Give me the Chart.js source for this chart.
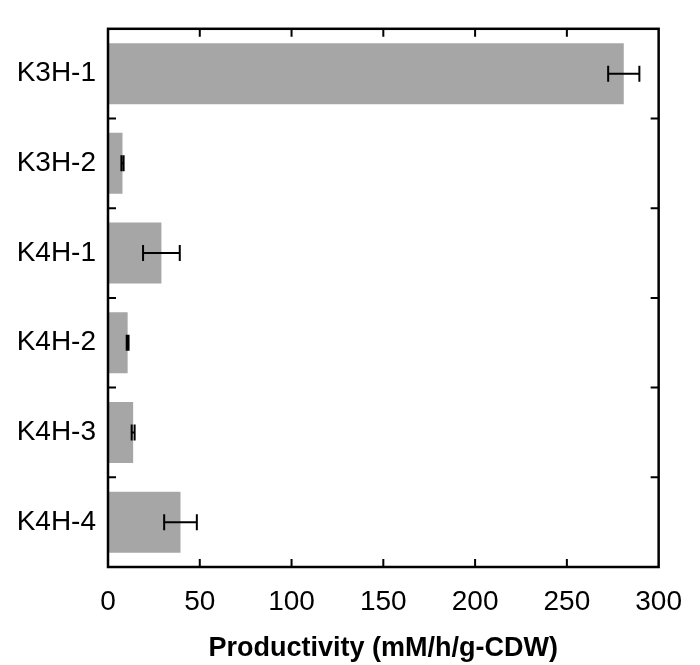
<!DOCTYPE html>
<html><head><meta charset="utf-8">
<script src="https://cdn.jsdelivr.net/npm/chart.js@4"></script>
<style>html,body{margin:0;padding:0;background:#fff}#w{width:700px;height:665px}</style>
</head><body><div id="w"><canvas id="c"></canvas></div>
<script>
const categories = ["K3H-1","K3H-2","K4H-1","K4H-2","K4H-3","K4H-4"];
const productivity = [281, 7.9, 29.1, 10.7, 13.7, 39.5];
const errors = [8.5, 0.6, 10, 0.5, 0.8, 8.9];
const xTicks = [0,50,100,150,200,250,300];

const F = "'Liberation Sans', Arial, sans-serif";
const deco = {
  id:'deco',
  afterDatasetsDraw(ch){
    const c=ch.ctx, a=ch.chartArea, x=ch.scales.x, y=ch.scales.y;
    c.save(); c.strokeStyle='#000';
    c.lineWidth=2;
    productivity.forEach((v,i)=>{
      const yc=y.getPixelForValue(i), x0=x.getPixelForValue(v-errors[i]), x1=x.getPixelForValue(v+errors[i]);
      c.beginPath(); c.moveTo(x0,yc); c.lineTo(x1,yc);
      c.moveTo(x0,yc-8); c.lineTo(x0,yc+8); c.moveTo(x1,yc-8); c.lineTo(x1,yc+8); c.stroke();
    });
    c.lineWidth=2;
    xTicks.slice(1,-1).forEach(t=>{const px=x.getPixelForValue(t);
      c.beginPath(); c.moveTo(px,a.bottom); c.lineTo(px,a.bottom-8); c.moveTo(px,a.top); c.lineTo(px,a.top+8); c.stroke();});
    for(let i=0;i<categories.length-1;i++){const py=(y.getPixelForValue(i)+y.getPixelForValue(i+1))/2;
      c.beginPath(); c.moveTo(a.left,py); c.lineTo(a.left+8,py); c.moveTo(a.right,py); c.lineTo(a.right-8,py); c.stroke();}
    c.lineWidth=2.5; c.strokeRect(a.left,a.top,a.right-a.left,a.bottom-a.top);
    c.restore();
  }
};
new Chart(document.getElementById('c'),{
  type:'bar',
  data:{labels:categories,datasets:[{data:productivity,backgroundColor:'#a6a6a6',borderWidth:0,categoryPercentage:1,barPercentage:0.68}]},
  options:{
    indexAxis:'y',responsive:true,maintainAspectRatio:false,animation:false,
    layout:{padding:{top:4,right:27,left:0,bottom:0}},
    plugins:{legend:{display:false},tooltip:{enabled:false}},
    scales:{
      x:{type:'linear',min:0,max:300,afterBuildTicks(s){s.ticks=xTicks.map(v=>({value:v}));},
        grid:{display:false,drawTicks:false},border:{display:false},
        afterFit(s){s.height=98;},
        ticks:{color:'#000',font:{family:F,size:28},padding:18,maxRotation:0},
        title:{display:true,text:'Productivity (mM/h/g-CDW)',color:'#000',font:{family:F,size:27,weight:'bold'},padding:{top:8,bottom:0}}},
      y:{grid:{display:false,drawTicks:false},border:{display:false},
        afterFit(s){s.width=108;},
        ticks:{color:'#000',font:{family:F,size:28},padding:12}}
    }
  },
  plugins:[deco]
});
</script></body></html>
